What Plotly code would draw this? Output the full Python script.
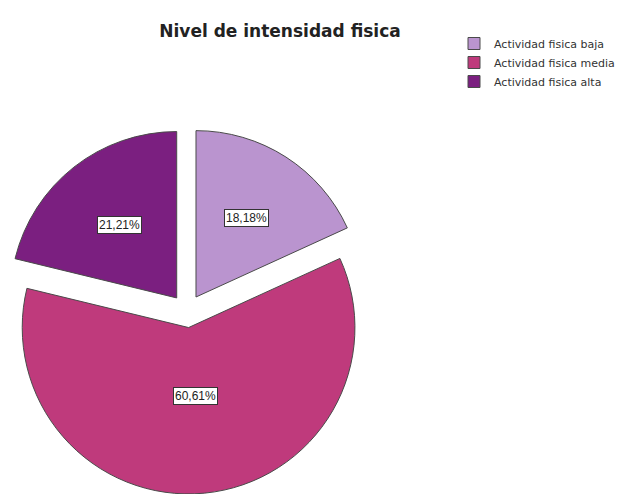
import math
import plotly.graph_objects as go

# Data
categories = ["Actividad fisica baja", "Actividad fisica media", "Actividad fisica alta"]
percentages = [18.18, 60.61, 21.21]
colors = ["#BA94CF", "#BF3A7C", "#7B1F80"]
label_texts = [f"{v:.2f}".replace(".", ",") + "%" for v in percentages]

# Canvas and pie geometry
W, H = 624, 494
M_T, M_B, M_L, M_R = 128, 0, 0, 0
PULL = 0.1
PIE_CX = 187  # horizontal centre of the pie box, px
plot_w = W - M_L - M_R
plot_h = H - M_T - M_B
box = plot_h
dom_x = [(PIE_CX - box / 2 - M_L) / plot_w, (PIE_CX + box / 2 - M_L) / plot_w]
dom_y = [0, 1]

fig = go.Figure()
fig.add_trace(go.Pie(
    labels=categories,
    values=percentages,
    sort=False,
    direction="clockwise",
    rotation=0,
    pull=[PULL] * len(percentages),
    marker=dict(colors=colors, line=dict(color="#4a4a4a", width=1)),
    textinfo="none",
    hoverinfo="label+percent",
    domain=dict(x=dom_x, y=dom_y),
    showlegend=True,
))

# Boxed percentage labels placed inside each slice
r = box / (2 + 2 * PULL)
cx = M_L + plot_w * (dom_x[0] + dom_x[1]) / 2
cy = M_T + plot_h * (1 - (dom_y[0] + dom_y[1]) / 2)
total = sum(percentages)
cum = 0.0
for val, txt in zip(percentages, label_texts):
    half = math.pi * val / total          # half-angle of the slice
    mid = 2 * math.pi * (cum + val / 2) / total
    cum += val
    centroid = 2 * math.sin(half) / (3 * half)
    k = 0.25 + centroid / 2
    dist = PULL * r + k * r
    px = cx + dist * math.sin(mid)
    py = cy - dist * math.cos(mid)
    fig.add_annotation(
        x=(px - M_L) / plot_w, y=(H - M_B - py) / plot_h,
        xref="paper", yref="paper", xanchor="center", yanchor="middle",
        text=txt, showarrow=False,
        font=dict(family="Liberation Sans, Arial, sans-serif", size=12, color="#222222"),
        bgcolor="white", bordercolor="#333333", borderwidth=1, borderpad=1,
    )

fig.update_layout(
    width=W, height=H,
    margin=dict(t=M_T, b=M_B, l=M_L, r=M_R),
    paper_bgcolor="white", plot_bgcolor="white",
    title=dict(
        text="<b>Nivel de intensidad fisica</b>",
        x=280 / W, xanchor="center", y=1 - 31 / H, yanchor="middle",
        font=dict(family="DejaVu Sans, sans-serif", size=17, color="#222222"),
    ),
    legend=dict(
        x=454 / W, y=1 + (M_T - 29) / plot_h, xanchor="left", yanchor="top",
        font=dict(family="DejaVu Sans, sans-serif", size=11, color="#333333"),
        bgcolor="rgba(0,0,0,0)", tracegroupgap=0, itemwidth=30,
    ),
)

fig.write_html("out.html")
